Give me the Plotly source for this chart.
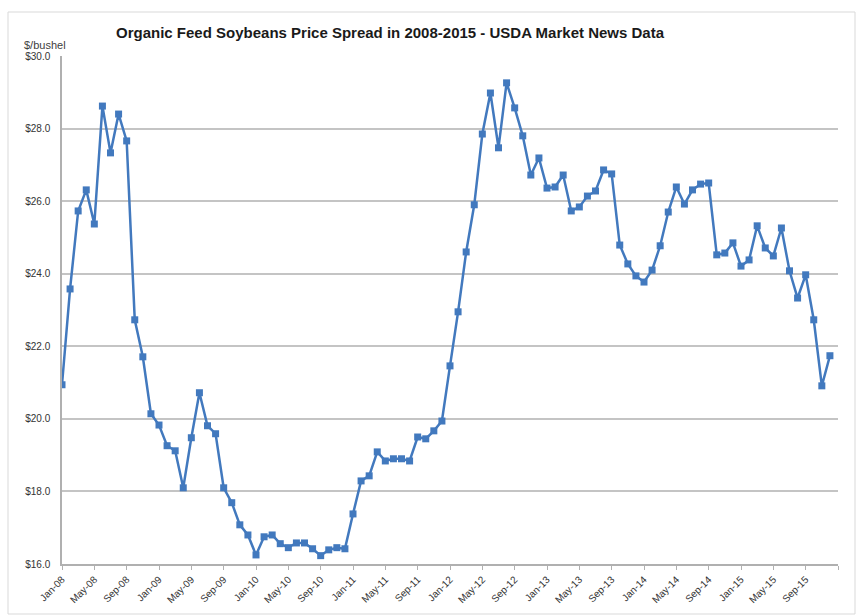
import plotly.graph_objects as go

months = [f"{m}-{y:02d}" for y in range(8, 16) for m in
          ["Jan", "Feb", "Mar", "Apr", "May", "Jun", "Jul", "Aug", "Sep", "Oct", "Nov", "Dec"]]

prices = [
    20.94, 23.58, 25.73, 26.31, 25.37, 28.62, 27.33, 28.40, 27.66, 22.73, 21.71, 20.14,
    19.83, 19.26, 19.12, 18.10, 19.48, 20.72, 19.81, 19.59, 18.10, 17.69, 17.08, 16.80,
    16.25, 16.75, 16.80, 16.56, 16.45, 16.58, 16.58, 16.42, 16.23, 16.39, 16.45, 16.42,
    17.38, 18.29, 18.43, 19.09, 18.84, 18.90, 18.90, 18.84, 19.50, 19.45, 19.67, 19.94,
    21.46, 22.95, 24.60, 25.90, 27.85, 28.98, 27.47, 29.26, 28.57, 27.80, 26.72, 27.19,
    26.36, 26.39, 26.72, 25.73, 25.84, 26.14, 26.28, 26.86, 26.75, 24.79, 24.27, 23.94,
    23.77, 24.10, 24.77, 25.70, 26.39, 25.92, 26.31, 26.47, 26.50, 24.52, 24.57, 24.85,
    24.21, 24.38, 25.32, 24.71, 24.49, 25.26, 24.08, 23.33, 23.97, 22.73, 20.91, 21.74,
]

tick_labels = months[::4]
title_text = "Organic Feed Soybeans Price Spread in 2008-2015 - USDA Market News Data"
unit_text = "$/bushel"

x_idx = list(range(len(months)))

fig = go.Figure()
fig.add_trace(go.Scatter(
    x=x_idx, y=prices, mode="lines+markers",
    line=dict(color="#4279BE", width=2.5),
    marker=dict(symbol="square", size=7, color="#4279BE"),
    text=months, hoverinfo="text+y",
))

W, H = 857, 616
ml, mr, mt, mb = 62, 19, 56, 52
pw, ph = W - ml - mr, H - mt - mb

tickvals = list(range(0, len(months), 4)) + [len(months)]
ticktext = tick_labels + [""]

fig.update_layout(
    width=W, height=H,
    margin=dict(l=ml, r=mr, t=mt, b=mb),
    paper_bgcolor="white", plot_bgcolor="white",
    showlegend=False,
    font=dict(family="Liberation Sans", color="#404040"),
    title=dict(text=f"<b>{title_text}</b>", x=390 / W, xanchor="center",
               y=1 - 33 / H, yanchor="middle", yref="container", xref="container",
               font=dict(size=15, color="#1a1a1a", family="Liberation Sans")),
    xaxis=dict(range=[0, len(months)], tickvals=tickvals, ticktext=ticktext,
               tickangle=-45, tickfont=dict(size=10, color="#333333"),
               showgrid=False, zeroline=False,
               showline=True, linecolor="#b0b0b0", linewidth=1.5,
               ticks="outside", ticklen=4, tickcolor="#b0b0b0"),
    yaxis=dict(range=[16, 30], dtick=2, tickprefix="$", tickformat=".1f",
               tickfont=dict(size=10, color="#333333"),
               showgrid=True, gridcolor="#c4c4c4", gridwidth=1.6,
               zeroline=False, showline=True, linecolor="#b0b0b0", linewidth=1.5,
               ticks="", ticklabelstandoff=8),
    annotations=[dict(text=unit_text, xref="paper", yref="paper",
                      x=(22 - ml) / pw, y=(H - mb - 45) / ph, xanchor="left",
                      yanchor="middle", showarrow=False,
                      font=dict(size=11, color="#404040"))],
    shapes=[dict(type="rect", xref="paper", yref="paper",
                 x0=(8 - ml) / pw, x1=(855 - ml) / pw,
                 y0=(H - mb - 614) / ph, y1=(H - mb - 12) / ph,
                 line=dict(color="#d9d9d9", width=1), layer="below")],
)

fig.write_html("out.html")
